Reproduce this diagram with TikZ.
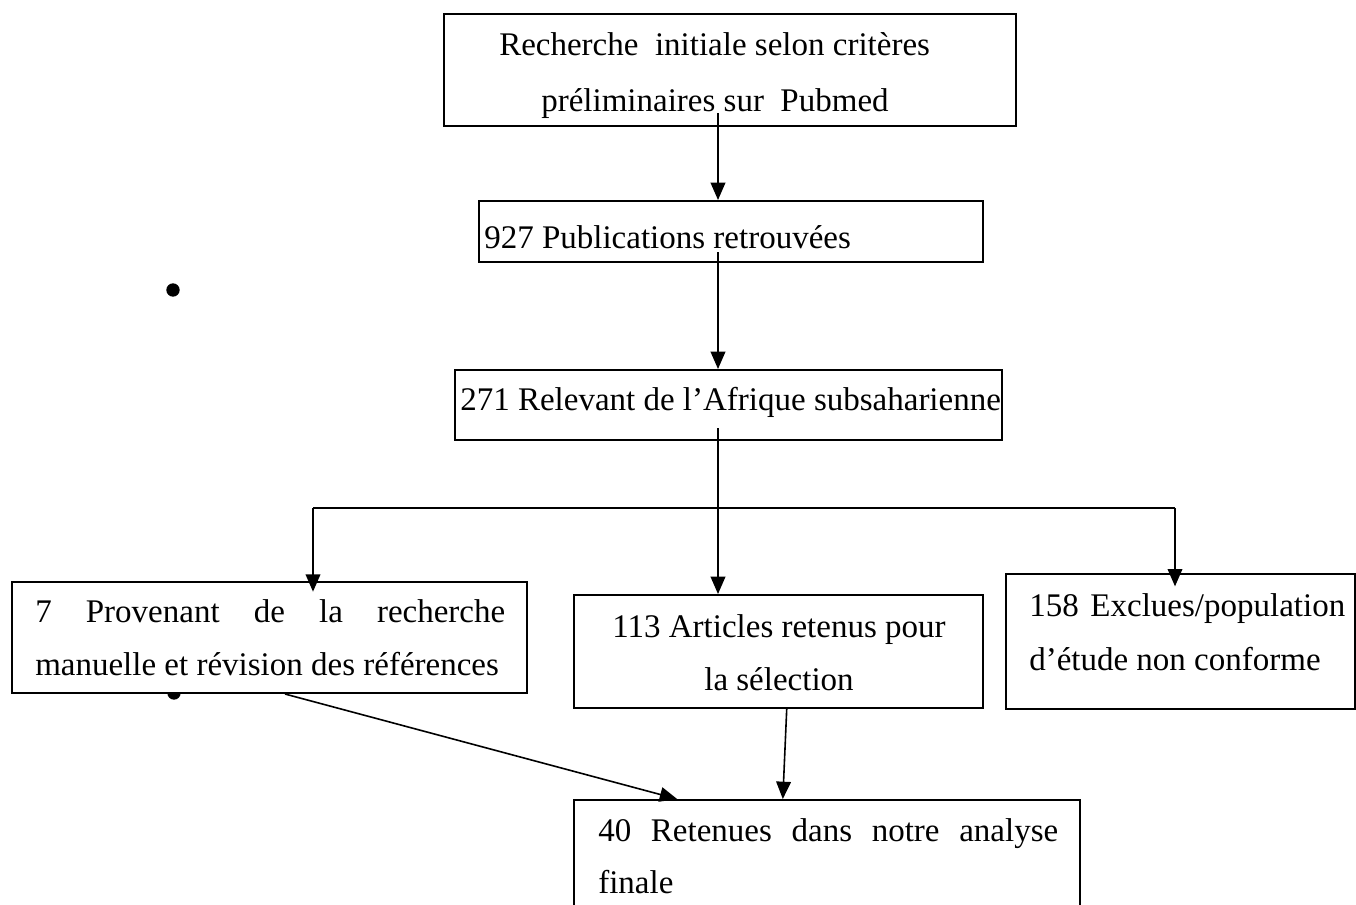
\documentclass[tikz,border=0pt]{standalone}
\usepackage{fontspec}
\setmainfont{Liberation Serif}
\usetikzlibrary{arrows.meta,fit,calc}
\newdimen\pxu \pxu=0.75pt
\newcommand\jline[2]{\makebox[#1\pxu][s]{#2}}
\begin{document}
\begin{tikzpicture}[x=0.75pt,y=-0.75pt,
  box/.style={draw, line width=1.5pt, fill=white, inner sep=0pt, rectangle},
  txt/.style={anchor=base west, inner sep=0pt, font=\fontsize{24.75}{30}\selectfont},
  arr/.style={line width=1.2pt, -{Triangle[length=13pt,width=11pt]}},
  ln/.style={line width=1.2pt},
  dot/.style={circle, fill=black, inner sep=0pt, minimum size=10pt}]
\useasboundingbox (0,0) rectangle (1356,904);
% bullets
\node[dot] (bu1) at (173,290) {};
\node[dot] (bu2) at (174,693) {};
% boxes
\node[box, fit={(444,14) (1016,126)}] (b1) {};
\node[box, fit={(479,201) (983,262)}] (b2) {};
\node[box, fit={(455,370) (1002,440)}] (b3) {};
\node[box, fit={(12,582) (527,693)}] (b7) {};
\node[box, fit={(574,595) (983,708)}] (b113) {};
\node[box, fit={(1006,574) (1355,709)}] (b158) {};
\node[box, fit={(574,800) (1080,915)}] (b40) {};
% texts
\node[txt] (t1a) at (499,55) {Recherche\ \ initiale selon critères};
\node[txt] (t1b) at (541,111) {préliminaires sur\ \ Pubmed};
\node[txt] (t2) at (484,248) {927 Publications retrouvées};
\node[txt] (t3) at (460,410) {271 Relevant de l’Afrique subsaharienne};
\node[txt] (t7a) at (35,622) {\jline{470}{7 Provenant de la recherche}};
\node[txt] (t7b) at (35,675) {manuelle et révision des références};
\node[txt, anchor=base] (t113a) at (779,637) {113 Articles retenus pour};
\node[txt, anchor=base] (t113b) at (779,690) {la sélection};
\node[txt] (t158a) at (1029,616) {\jline{316}{158 Exclues/population}};
\node[txt] (t158b) at (1029,670) {d’étude non conforme};
\node[txt] (t40a) at (598,841) {\jline{460}{40 Retenues dans notre analyse}};
\node[txt] (t40b) at (598,893) {finale};
% connectors
\coordinate (s1) at (718,113);
\coordinate (s2) at (718,252);
\coordinate (s3) at (718,428);
\coordinate (hl) at (313,508);
\coordinate (hr) at (1175,508);
\draw[arr] (s1) -- (s1 |- b2.north);
\draw[arr] (s2) -- (s2 |- b3.north);
\draw[arr] (s3) -- (s3 |- b113.north);
\draw[ln] (hl) -- (hr);
\draw[arr] (hl) -- ([yshift=-8pt]hl |- b7.north);
\draw[arr] (hr) -- ([yshift=-10pt]hr |- b158.north);
\draw[arr] ($(b7.south west)!0.53!(b7.south east)$) -- ($(b40.north west)!0.205!(b40.north east)$);
\draw[arr] ($(b113.south west)!0.52!(b113.south east)$) -- ($(b40.north west)!0.413!(b40.north east)$);
\end{tikzpicture}
\end{document}
